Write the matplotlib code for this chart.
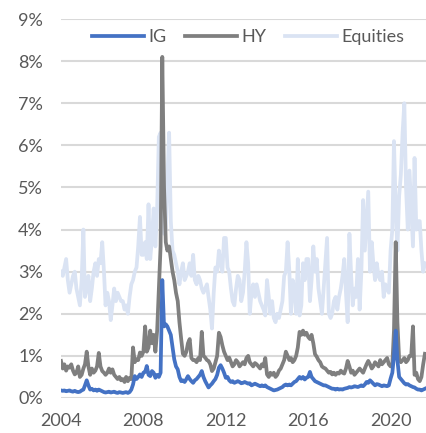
import matplotlib
matplotlib.use("Agg")
import matplotlib.pyplot as plt
from matplotlib.ticker import FuncFormatter
import pandas as pd

# Monthly data, Jan 2004 - Sep 2021 (values in %)
start_month = "2004-01-01"

ig = [
    0.18, 0.17, 0.18, 0.16, 0.17, 0.18, 0.16, 0.15, 0.17, 0.15, 0.14, 0.15,  # 2004
    0.18, 0.20, 0.30, 0.42, 0.30, 0.20, 0.22, 0.18, 0.20, 0.17, 0.20, 0.18,  # 2005
    0.16, 0.14, 0.13, 0.14, 0.15, 0.13, 0.14, 0.15, 0.13, 0.12, 0.14, 0.13,  # 2006
    0.12, 0.13, 0.14, 0.12, 0.14, 0.20, 0.32, 0.52, 0.45, 0.50, 0.56, 0.50,  # 2007
    0.60, 0.62, 0.76, 0.55, 0.52, 0.64, 0.60, 0.48, 0.55, 0.50, 0.60, 2.80,  # 2008
    1.70, 1.75, 1.70, 1.60, 1.50, 1.20, 0.92, 0.75, 0.68, 0.50, 0.40, 0.42,  # 2009
    0.38, 0.45, 0.52, 0.45, 0.40, 0.36, 0.42, 0.45, 0.50, 0.55, 0.64, 0.50,  # 2010
    0.40, 0.32, 0.25, 0.30, 0.34, 0.40, 0.45, 0.55, 0.72, 0.78, 0.70, 0.60,  # 2011
    0.48, 0.50, 0.42, 0.38, 0.40, 0.36, 0.38, 0.40, 0.38, 0.35, 0.36, 0.38,  # 2012
    0.36, 0.34, 0.35, 0.30, 0.32, 0.34, 0.32, 0.30, 0.28, 0.30, 0.28, 0.30,  # 2013
    0.26, 0.24, 0.22, 0.20, 0.18, 0.19, 0.20, 0.22, 0.24, 0.26, 0.30, 0.32,  # 2014
    0.30, 0.32, 0.30, 0.34, 0.38, 0.40, 0.45, 0.50, 0.46, 0.50, 0.44, 0.48,  # 2015
    0.50, 0.62, 0.50, 0.45, 0.40, 0.38, 0.36, 0.34, 0.32, 0.30, 0.30, 0.28,  # 2016
    0.26, 0.24, 0.22, 0.22, 0.20, 0.22, 0.20, 0.21, 0.20, 0.22, 0.23, 0.24,  # 2017
    0.26, 0.25, 0.26, 0.28, 0.27, 0.26, 0.28, 0.30, 0.28, 0.32, 0.38, 0.36,  # 2018
    0.42, 0.38, 0.34, 0.30, 0.33, 0.32, 0.30, 0.28, 0.30, 0.29, 0.28, 0.30,  # 2019
    0.46, 0.60, 1.00, 1.60, 0.90, 0.50, 0.45, 0.40, 0.35, 0.32, 0.33, 0.30,  # 2020
    0.28, 0.26, 0.25, 0.22, 0.20, 0.20, 0.18, 0.20, 0.22,                    # 2021
]

hy = [
    0.88, 0.70, 0.80, 0.65, 0.75, 0.72, 0.80, 0.65, 0.56, 0.60, 0.75, 0.50,  # 2004
    0.55, 0.70, 0.80, 1.10, 0.75, 0.55, 0.70, 0.60, 0.65, 0.75, 1.07, 0.75,  # 2005
    0.64, 0.60, 0.55, 0.60, 0.70, 0.60, 0.68, 0.55, 0.50, 0.45, 0.50, 0.42,  # 2006
    0.45, 0.38, 0.50, 0.40, 0.48, 0.45, 1.20, 0.85, 0.92, 0.90, 1.08, 1.00,  # 2007
    1.10, 1.70, 1.10, 1.20, 1.60, 1.30, 1.50, 1.10, 1.60, 2.60, 3.60, 8.10,  # 2008
    5.00, 3.70, 3.50, 3.60, 3.30, 3.00, 2.80, 2.50, 2.30, 1.80, 1.40, 1.05,  # 2009
    1.00, 1.10, 1.30, 1.40, 0.95, 0.90, 0.90, 0.85, 0.95, 0.90, 1.57, 1.00,  # 2010
    0.96, 0.90, 0.88, 0.80, 0.64, 0.70, 0.85, 1.00, 1.55, 1.45, 1.25, 1.10,  # 2011
    1.00, 0.90, 0.96, 0.85, 0.75, 0.80, 0.90, 0.85, 0.75, 0.80, 0.85, 0.80,  # 2012
    0.95, 1.00, 0.85, 0.80, 0.75, 0.83, 0.80, 0.75, 0.70, 0.80, 0.75, 0.95,  # 2013
    0.56, 0.50, 0.60, 0.55, 0.60, 0.50, 0.55, 0.65, 0.70, 0.80, 0.90, 1.10,  # 2014
    1.00, 0.90, 0.95, 0.85, 0.90, 1.00, 1.20, 1.57, 1.50, 1.60, 1.50, 1.55,  # 2015
    1.45, 1.40, 1.50, 1.30, 1.04, 0.98, 0.90, 0.85, 0.75, 0.72, 0.70, 0.65,  # 2016
    0.60, 0.62, 0.56, 0.60, 0.55, 0.60, 0.58, 0.65, 0.60, 0.58, 0.70, 0.88,  # 2017
    0.75, 0.60, 0.65, 0.55, 0.60, 0.65, 0.70, 0.65, 0.60, 0.70, 0.80, 0.88,  # 2018
    0.80, 0.70, 0.75, 0.85, 0.80, 0.75, 0.90, 0.80, 0.85, 0.90, 0.95, 0.80,  # 2019
    0.75, 0.80, 1.60, 3.70, 1.80, 0.90, 0.85, 0.90, 0.95, 0.85, 0.90, 1.00,  # 2020
    1.00, 1.70, 0.55, 0.60, 0.45, 0.40, 0.50, 0.80, 1.05,                    # 2021
]

equities = [
    3.0, 2.9, 3.1, 3.3, 2.8, 2.5, 2.7, 2.9, 3.0, 2.6, 2.4, 2.2,  # 2004
    2.8, 4.0, 2.4, 2.6, 2.9, 2.3, 2.6, 3.0, 3.2, 2.9, 3.3, 3.2,  # 2005
    3.7, 3.0, 2.2, 2.5, 2.3, 1.85, 2.2, 2.6, 2.3, 2.5, 2.4, 2.3,  # 2006
    2.3, 2.1, 2.2, 2.0, 2.4, 2.7, 2.8, 3.0, 3.1, 3.6, 4.3, 3.4,  # 2007
    3.4, 3.7, 3.3, 4.6, 3.3, 3.8, 4.5, 3.6, 4.5, 6.2, 6.3, 5.5,  # 2008
    3.9, 4.0, 5.2, 6.3, 4.2, 3.5, 3.4, 3.2, 3.0, 2.7, 3.0, 3.2,  # 2009
    2.8, 2.9, 3.0, 3.2, 2.9, 3.4, 2.8, 2.7, 2.9, 2.8, 2.6, 2.5,  # 2010
    2.6, 2.7, 2.4, 2.1, 1.65, 2.5, 3.1, 3.0, 3.5, 3.2, 3.0, 3.8,  # 2011
    3.8, 3.1, 3.0, 2.6, 2.3, 2.2, 2.6, 2.9, 2.8, 2.3, 2.5, 3.0,  # 2012
    3.7, 3.2, 2.0, 2.5, 2.7, 2.4, 2.7, 2.5, 2.3, 2.2, 2.1, 1.96,  # 2013
    2.8, 2.4, 2.0, 2.3, 1.9, 1.8, 2.0, 1.9, 2.1, 2.3, 2.9, 3.0,  # 2014
    3.7, 3.0, 2.0, 2.8, 2.6, 2.0, 3.3, 1.96, 2.2, 3.2, 2.8, 3.3,  # 2015
    3.3, 2.3, 2.8, 3.6, 3.0, 3.3, 2.6, 2.3, 2.0, 2.6, 3.2, 3.8,  # 2016
    2.0, 1.9, 2.0, 2.3, 2.4, 2.1, 2.4, 2.6, 2.9, 3.3, 2.5, 1.8,  # 2017
    3.9, 2.9, 2.2, 2.6, 2.4, 3.3, 2.1, 3.0, 4.7, 3.5, 4.2, 4.9,  # 2018
    3.0, 3.7, 3.2, 2.8, 3.2, 2.9, 2.8, 3.0, 2.4, 2.7, 2.6, 2.5,  # 2019
    3.5, 4.0, 6.1, 4.5, 3.5, 4.8, 5.3, 6.3, 7.0, 5.0, 4.0, 5.4,  # 2020
    4.5, 3.6, 5.7, 4.0, 4.2, 4.2, 3.5, 3.0, 3.2,                 # 2021
]

series_names = ["IG", "HY", "Equities"]
colors = {"IG": "#4472C4", "HY": "#7F7F7F", "Equities": "#DAE3F3"}
tick_years = [2004, 2008, 2012, 2016, 2020]
y_ticks = list(range(0, 10))

dates = pd.date_range(start_month, periods=len(ig), freq="MS")

plt.rcParams["font.family"] = ["Lato", "DejaVu Sans"]

W, H = 426, 433
fig = plt.figure(figsize=(W / 100, H / 100), dpi=100)
ax = fig.add_axes([61 / W, (H - 398) / H, (W - 61) / W, (398 - 19) / H])

lw = 2.7
l_eq, = ax.plot(dates, equities, color=colors["Equities"], lw=lw, zorder=2,
                solid_joinstyle="round", label="Equities")
l_hy, = ax.plot(dates, hy, color=colors["HY"], lw=lw, zorder=3,
                solid_joinstyle="round", label="HY")
l_ig, = ax.plot(dates, ig, color=colors["IG"], lw=lw, zorder=4,
                solid_joinstyle="round", label="IG")

ax.set_ylim(0, 9)
ax.set_yticks(y_ticks)
ax.yaxis.set_major_formatter(FuncFormatter(lambda v, p: f"{int(v)}%"))
ax.set_xlim(pd.Timestamp("2004-01-01"), pd.Timestamp("2021-09-20"))
ax.set_xticks([pd.Timestamp(f"{y}-01-01") for y in tick_years])
ax.set_xticklabels([str(y) for y in tick_years])

ax.grid(axis="y", color="#D9D9D9", lw=1.5, zorder=0)
ax.set_axisbelow(True)
for s in ax.spines.values():
    s.set_visible(False)
ax.tick_params(axis="both", length=0, labelsize=13, colors="#595959")
ax.tick_params(axis="y", pad=13)
ax.tick_params(axis="x", pad=11)
for lab in ax.get_xticklabels() + ax.get_yticklabels():
    lab.set_color("#595959")

leg = fig.legend([l_ig, l_hy, l_eq], series_names, loc="center",
                 bbox_to_anchor=(248 / W, 1 - 37 / H), ncol=3, frameon=False,
                 fontsize=13, handlelength=2.9, handletextpad=0.25,
                 columnspacing=1.0, labelcolor="#595959")
for h in leg.legend_handles:
    h.set_linewidth(2.7)

fig.savefig("out.png", dpi=100)
